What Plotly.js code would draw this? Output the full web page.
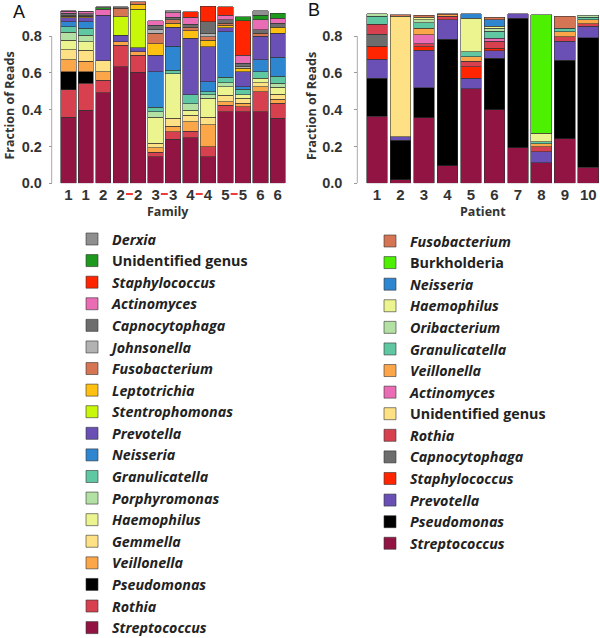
<!DOCTYPE html>
<html>
<head>
<meta charset="utf-8">
<script src="https://cdn.plot.ly/plotly-3.0.1.min.js"></script>
<style>html,body{margin:0;padding:0;background:#fff;}#chart{width:600px;height:638px;}</style>
</head>
<body>
<div id="chart"></div>
<script>
// ---------- Panel A : Family ----------
const familyLabels = ['1','1','2','2','2','3','3','4','4','5','5','6','6'];
const linkedPairs = [[3,4],[5,6],[7,8],[9,10]];   // bars joined by a red dash

const aStreptococcus   = [0.358,0.398,0.492,0.633,0.603,0.145,0.239,0.248,0.145,0.389,0.389,0.389,0.353];
const aRothia          = [0.149,0.145,0.069,0.118,0.094,0.023,0.042,0.036,0.054,0.036,0.028,0.109,0.081];
const aPseudomonas     = [0.099,0.063,0,0,0,0,0,0,0,0,0,0,0];
const aVeillonella     = [0.064,0.058,0.045,0.018,0.018,0.026,0.030,0.051,0.118,0.018,0.017,0.027,0.022];
const aGemmella        = [0.057,0.060,0.060,0,0,0.023,0.042,0.036,0.041,0.036,0.028,0.022,0.029];
const aHaemophilus     = [0.051,0.045,0,0,0,0.141,0.241,0.027,0.104,0.045,0.018,0.023,0.036];
const aPorphyromonas   = [0.042,0.036,0,0,0,0.031,0,0.033,0.018,0.022,0,0,0.022];
const aGranulicatella  = [0.031,0.037,0,0,0,0.024,0.021,0.049,0.018,0.029,0.030,0.036,0.040];
const aNeisseria       = [0.027,0.036,0,0,0,0.193,0.131,0,0.054,0.248,0.015,0.064,0.101];
const aPrevotella      = [0.022,0.022,0.248,0.036,0.022,0.091,0.101,0.307,0.190,0.023,0.081,0.130,0.130];
const aStentrophomonas = [0,0,0,0.100,0.210,0,0,0,0,0,0,0,0];
const aLeptotrichia    = [0.004,0.004,0,0,0.027,0.060,0.022,0.042,0.036,0.013,0.018,0,0.033];
const aFusobacterium   = [0.004,0.004,0,0.045,0.012,0.057,0.021,0.018,0.018,0.012,0,0.014,0];
const aJohnsonella     = [0.004,0.004,0,0,0,0.022,0,0,0.018,0,0.012,0,0];
const aCapnocytophaga  = [0.012,0.010,0,0.010,0,0.024,0.012,0.018,0.064,0.018,0.016,0.019,0.022];
const aActinomyces     = [0.010,0.010,0.031,0,0,0.023,0.024,0.036,0,0.024,0.045,0.057,0.027];
const aStaphylococcus  = [0,0,0,0,0,0,0,0.031,0.085,0.045,0.186,0,0];
const aUnidentified    = [0,0,0.010,0,0,0,0,0,0,0,0.022,0.024,0.027];
const aDerxia          = [0.003,0.004,0.005,0,0,0,0.012,0,0,0,0,0.024,0];

// ---------- Panel B : Patient ----------
const patientLabels = ['1','2','3','4','5','6','7','8','9','10'];

const bStreptococcus   = [0.363,0.018,0.356,0.095,0.513,0.400,0.194,0.112,0.243,0.086];
const bPseudomonas     = [0.209,0.216,0.162,0.687,0,0.280,0.702,0,0.426,0.705];
const bPrevotella      = [0.102,0.018,0.205,0.108,0.059,0.039,0.025,0.059,0.104,0.063];
const bStaphylococcus  = [0.072,0,0.018,0,0.061,0.015,0,0,0,0];
const bCapnocytophaga  = [0.063,0,0,0,0,0,0,0,0,0];
const bRothia          = [0.054,0,0.018,0.018,0.029,0.039,0,0.027,0.022,0.013];
const bUnidentified    = [0,0.656,0,0,0,0,0,0,0,0];
const bActinomyces     = [0,0,0.047,0,0,0.015,0,0,0,0];
const bVeillonella     = [0,0,0.036,0.007,0.025,0,0,0.018,0.029,0.023];
const bGranulicatella  = [0.045,0,0.030,0,0.029,0.039,0,0.009,0.018,0.012];
const bOribacterium    = [0.012,0,0.018,0,0,0.015,0,0,0,0.012];
const bHaemophilus     = [0,0,0.013,0,0.180,0.012,0,0.048,0,0];
const bNeisseria       = [0,0,0,0,0.025,0.036,0,0,0,0];
const bBurkholderia    = [0,0,0,0,0,0,0,0.644,0,0];
const bFusobacterium   = [0,0.009,0.011,0.006,0,0.013,0,0,0.066,0];

const yTickVals = [0,0.2,0.4,0.6,0.8];

// ---------- styles ----------
const colors = {
  Streptococcus:'#921443', Rothia:'#d6404f', Pseudomonas:'#000000', Veillonella:'#fca64a',
  Gemmella:'#fde184', Haemophilus:'#ebf48f', Porphyromonas:'#b3e1a3', Oribacterium:'#b3e1a3',
  Granulicatella:'#5fc7a2', Neisseria:'#2d86cf', Prevotella:'#6a50b4', Stentrophomonas:'#c9f709',
  Leptotrichia:'#fec112', Fusobacterium:'#d57553', Johnsonella:'#b2b2b2', Capnocytophaga:'#6d6d6d',
  Actinomyces:'#ea6cb4', Staphylococcus:'#ff2500', UnidA:'#1d9a1d', UnidB:'#fde184',
  Derxia:'#8f8f8f', Burkholderia:'#4df000'
};
const it = s => '<i>' + s + '</i>';

const seriesA = [
  [it('Streptococcus'), aStreptococcus, colors.Streptococcus],
  [it('Rothia'), aRothia, colors.Rothia],
  [it('Pseudomonas'), aPseudomonas, colors.Pseudomonas],
  [it('Veillonella'), aVeillonella, colors.Veillonella],
  [it('Gemmella'), aGemmella, colors.Gemmella],
  [it('Haemophilus'), aHaemophilus, colors.Haemophilus],
  [it('Porphyromonas'), aPorphyromonas, colors.Porphyromonas],
  [it('Granulicatella'), aGranulicatella, colors.Granulicatella],
  [it('Neisseria'), aNeisseria, colors.Neisseria],
  [it('Prevotella'), aPrevotella, colors.Prevotella],
  [it('Stentrophomonas'), aStentrophomonas, colors.Stentrophomonas],
  [it('Leptotrichia'), aLeptotrichia, colors.Leptotrichia],
  [it('Fusobacterium'), aFusobacterium, colors.Fusobacterium],
  [it('Johnsonella'), aJohnsonella, colors.Johnsonella],
  [it('Capnocytophaga'), aCapnocytophaga, colors.Capnocytophaga],
  [it('Actinomyces'), aActinomyces, colors.Actinomyces],
  [it('Staphylococcus'), aStaphylococcus, colors.Staphylococcus],
  ['Unidentified genus', aUnidentified, colors.UnidA],
  [it('Derxia'), aDerxia, colors.Derxia]
];
const seriesB = [
  [it('Streptococcus'), bStreptococcus, colors.Streptococcus],
  [it('Pseudomonas'), bPseudomonas, colors.Pseudomonas],
  [it('Prevotella'), bPrevotella, colors.Prevotella],
  [it('Staphylococcus'), bStaphylococcus, colors.Staphylococcus],
  [it('Capnocytophaga'), bCapnocytophaga, colors.Capnocytophaga],
  [it('Rothia'), bRothia, colors.Rothia],
  ['Unidentified genus', bUnidentified, colors.UnidB],
  [it('Actinomyces'), bActinomyces, colors.Actinomyces],
  [it('Veillonella'), bVeillonella, colors.Veillonella],
  [it('Granulicatella'), bGranulicatella, colors.Granulicatella],
  [it('Oribacterium'), bOribacterium, colors.Oribacterium],
  [it('Haemophilus'), bHaemophilus, colors.Haemophilus],
  [it('Neisseria'), bNeisseria, colors.Neisseria],
  ['Burkholderia', bBurkholderia, colors.Burkholderia],
  [it('Fusobacterium'), bFusobacterium, colors.Fusobacterium]
];

const xA = familyLabels.map((_, i) => i);
const xB = patientLabels.map((_, i) => i);
const segLine = {color:'rgba(50,50,50,0.85)', width:0.7};

const traces = [];
seriesA.forEach(([name, vals, col]) => traces.push({
  type:'bar', name, x:xA, y:vals.map(v => v === 0 ? null : v),
  xaxis:'x', yaxis:'y', legend:'legend',
  marker:{color:col, line:segLine}, hoverinfo:'name+y'
}));
seriesB.forEach(([name, vals, col]) => traces.push({
  type:'bar', name, x:xB, y:vals.map(v => v === 0 ? null : v),
  xaxis:'x2', yaxis:'y2', legend:'legend2',
  marker:{color:col, line:segLine}, hoverinfo:'name+y'
}));

const W = 600, H = 638;
const py = p => 1 - p / H;     // pixel row -> paper fraction
const px = p => p / W;

const yDomain = [py(183.3), py(1.1)];
const yTickFont = {family:'Liberation Sans, Arial, sans-serif', size:14.5, color:'#333', weight:'bold'};
const xTickFont = {family:'Liberation Sans, Arial, sans-serif', size:15, color:'#333', weight:'bold'};
const titleFont = {family:'Open Sans, sans-serif', size:12.5, color:'#333', weight:'bold'};

function yAxis(pos, standoff){
  return {domain:yDomain, range:[0,0.99], anchor:'free', position:pos,
    tickvals:yTickVals, ticktext:yTickVals.map(v => v.toFixed(1)),
    ticks:'outside', ticklen:3, tickcolor:'#999', tickwidth:1,
    showline:false, showgrid:false, zeroline:false, tickfont:yTickFont, ticklabelstandoff:standoff};
}
function xAxis(dom, n, labels, anchor){
  return {domain:dom, range:[-0.5, n - 0.5], anchor, tickvals:labels.map((_, i) => i), ticktext:labels,
    ticks:'', showline:false, showgrid:false, zeroline:false, tickfont:xTickFont, ticklabelstandoff:1};
}

const axisXA = px(51.7), axisXB = px(357.3);
const shapes = [
  {type:'line', xref:'paper', yref:'y', x0:axisXA, x1:axisXA, y0:yTickVals[0], y1:yTickVals[yTickVals.length-1], line:{color:'#aaa', width:1}},
  {type:'line', xref:'paper', yref:'y2', x0:axisXB, x1:axisXB, y0:yTickVals[0], y1:yTickVals[yTickVals.length-1], line:{color:'#aaa', width:1}}
];
linkedPairs.forEach(([a, b]) => {
  const mid = (a + b) / 2;
  shapes.push({type:'line', xref:'x', yref:'paper', x0:mid - 0.2, x1:mid + 0.2, y0:py(194), y1:py(194), line:{color:'#ee3a3a', width:2.2}});
});

const ann = (text, x, y, font, extra) => Object.assign({text, x:px(x), y:py(y), xref:'paper', yref:'paper',
  xanchor:'center', yanchor:'middle', showarrow:false, font}, extra || {});
const letterFont = {family:'Liberation Sans, Arial', size:18, color:'#111'};
const annotations = [
  ann('A', 18.5, 11.5, letterFont),
  ann('B', 313.5, 10.5, letterFont),
  ann('Family', 168.3, 211, titleFont),
  ann('Patient', 483, 211, titleFont),
  ann('Fraction of Reads', 9.5, 106, titleFont, {textangle:-90}),
  ann('Fraction of Reads', 312, 106, titleFont, {textangle:-90})
];

const legendFont = {family:'Open Sans, sans-serif', size:14.3, color:'#222', weight:'bold'};
const layout = {
  width:W, height:H, margin:{l:0, r:0, t:0, b:0, autoexpand:false},
  paper_bgcolor:'#fff', plot_bgcolor:'#fff',
  barmode:'stack', bargap:0.12,
  xaxis:xAxis([px(59.6), px(286.5)], familyLabels.length, familyLabels, 'y'),
  yaxis:yAxis(axisXA, 4),
  xaxis2:xAxis([px(365.3), 1], patientLabels.length, patientLabels, 'y2'),
  yaxis2:yAxis(axisXB, 9),
  shapes, annotations,
  legend:{x:px(72), y:py(223.2), xanchor:'left', yanchor:'top', traceorder:'reversed', font:legendFont, bgcolor:'rgba(0,0,0,0)', itemclick:false, itemdoubleclick:false, maxheight:800},
  legend2:{x:px(370), y:py(225.2), xanchor:'left', yanchor:'top', traceorder:'reversed', font:legendFont, bgcolor:'rgba(0,0,0,0)', itemclick:false, itemdoubleclick:false, maxheight:800},
  showlegend:true
};

Plotly.newPlot('chart', traces, layout, {displayModeBar:false, staticPlot:true});
</script>
</body>
</html>
